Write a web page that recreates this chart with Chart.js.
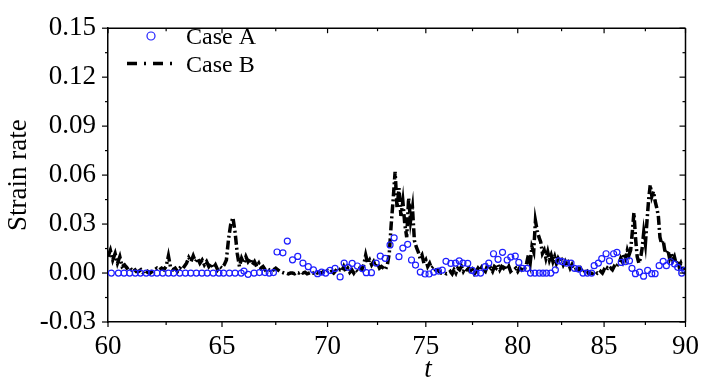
<!DOCTYPE html>
<html>
<head>
<meta charset="utf-8">
<script src="https://cdn.jsdelivr.net/npm/chart.js@4.4.1/dist/chart.umd.min.js"></script>
<style>
  html, body { margin: 0; padding: 0; background: #fff; }
  #wrap { width: 708px; height: 385px; }
</style>
</head>
<body>
<div id="wrap"><canvas id="chart" width="708" height="385"></canvas></div>
<script>
const xMajorTicks = [60, 65, 70, 75, 80, 85, 90]
const xMinorTicks = [62.5, 67.5, 72.5, 77.5, 82.5, 87.5]
const yMajorTicks = [-0.03, 0, 0.03, 0.06, 0.09, 0.12, 0.15]
const yMinorTicks = [-0.015, 0.015, 0.045, 0.075, 0.105, 0.135]

// Case A (open circles)
const caseATimes = [
  60.14, 60.44, 60.68, 60.92, 61.16, 61.38, 61.63, 61.87, 62.10, 62.35,
  62.60, 62.83, 63.10, 63.35, 63.59, 63.84, 64.09, 64.33, 64.60, 64.86,
  65.07, 65.34, 65.60, 65.88, 66.01, 66.20, 66.48, 66.73, 66.99, 67.19,
  67.39, 67.56, 67.84, 68.05, 68.30, 68.55, 68.80, 69.06, 69.31, 69.51,
  69.71, 69.91, 70.12, 70.37, 70.62, 70.82, 71.02, 71.22, 71.48, 71.73,
  71.93, 72.19, 72.43, 72.64, 72.89, 73.14, 73.35, 73.60, 73.80, 74.05,
  74.25, 74.46, 74.71, 74.96, 75.17, 75.42, 75.67, 75.87, 76.07, 76.33,
  76.58, 76.78, 76.98, 77.24, 77.49, 77.69, 77.94, 78.19, 78.39, 78.65,
  78.90, 79.15, 79.41, 79.61, 79.86, 80.06, 80.27, 80.52, 80.72, 80.97,
  81.22, 81.43, 81.63, 81.88, 82.14, 82.34, 82.54, 82.79, 83.05, 83.25,
  83.50, 83.75, 84.01, 84.26, 84.41, 84.66, 84.86, 85.12, 85.32, 85.57,
  85.77, 86.03, 86.28, 86.53, 86.68, 86.89, 87.14, 87.39, 87.64, 87.89,
  88.10, 88.35, 88.60, 88.80, 89.06, 89.31, 89.51, 89.76, 89.96
]
const caseAValues = [
  0, 0, 0, 0, 0, 0, 0, 0, 0, 0,
  0, 0, 0, 0, 0, 0, 0, 0, 0, 0,
  0, 0, 0, 0, 0.0012, -0.0008, 0, 0.0003, 0.0003, 0,
  0.0003, 0.0129, 0.0124, 0.0196, 0.0081, 0.0102, 0.0061, 0.0039, 0.0019, -0.0004,
  0.0006, 0, 0.0016, 0.0028, -0.0024, 0.0061, 0.0035, 0.0059, 0.0043, 0.0028,
  0.0002, 0.0002, 0.0061, 0.0104, 0.009, 0.0172, 0.0216, 0.010, 0.0153, 0.0176,
  0.008, 0.0049, 0.0006, -0.0006, -0.0006, 0.0006, 0.0012, 0.0018, 0.0072, 0.0059,
  0.0061, 0.0075, 0.0061, 0.0059, 0.0016, 0, 0, 0.0039, 0.0061, 0.0118,
  0.0084, 0.0127, 0.008, 0.0098, 0.0104, 0.0065, 0.0029, 0.0029, 0, 0,
  0, 0, 0, 0, 0.0019, 0.0075, 0.007, 0.0061, 0.0061, 0.0029,
  0.0025, 0, 0, 0, 0.0045, 0.0061, 0.0088, 0.0118, 0.0075, 0.0118,
  0.0127, 0.0065, 0.0069, 0.0075, 0.0029, -0.0004, 0.0006, -0.0019, 0.0016, -0.0004,
  -0.0004, 0.0045, 0.0072, 0.0045, 0.0069, 0.0055, 0.0035, 0, 0.0016
]

// Case B (dash-dot line)
const caseBTimes = [
  60.0, 60.1, 60.2, 60.3, 60.4, 60.5, 60.6, 60.7, 60.8, 60.9,
  61.0, 61.1, 61.2, 61.3, 61.4, 61.5, 61.6, 61.7, 61.8, 61.9,
  62.0, 62.1, 62.2, 62.3, 62.4, 62.5, 62.6, 62.7, 62.8, 62.9,
  63.0, 63.1, 63.2, 63.3, 63.4, 63.5, 63.6, 63.7, 63.8, 63.9,
  64.0, 64.1, 64.2, 64.3, 64.4, 64.5, 64.6, 64.7, 64.8, 64.9,
  65.0, 65.1, 65.2, 65.3, 65.4, 65.5, 65.6, 65.7, 65.8, 65.9,
  66.0, 66.1, 66.2, 66.3, 66.4, 66.5, 66.6, 66.7, 66.8, 66.9,
  67.0, 67.1, 67.2, 67.3, 67.4, 67.5, 67.6, 67.7, 67.8, 67.9,
  68.0, 68.1, 68.2, 68.3, 68.4, 68.5, 68.6, 68.7, 68.8, 68.9,
  69.0, 69.1, 69.2, 69.3, 69.4, 69.5, 69.6, 69.7, 69.8, 69.9,
  70.0, 70.1, 70.2, 70.3, 70.4, 70.5, 70.6, 70.7, 70.8, 70.9,
  71.0, 71.1, 71.2, 71.3, 71.4, 71.5, 71.6, 71.7, 71.8, 71.9,
  72.0, 72.1, 72.2, 72.3, 72.4, 72.5, 72.6, 72.7, 72.8, 72.9,
  73.0, 73.1, 73.2, 73.3, 73.4, 73.5, 73.6, 73.7, 73.8, 73.9,
  74.0, 74.1, 74.2, 74.3, 74.4, 74.5, 74.6, 74.7, 74.8, 74.9,
  75.0, 75.1, 75.2, 75.3, 75.4, 75.5, 75.6, 75.7, 75.8, 75.9,
  76.0, 76.1, 76.2, 76.3, 76.4, 76.5, 76.6, 76.7, 76.8, 76.9,
  77.0, 77.1, 77.2, 77.3, 77.4, 77.5, 77.6, 77.7, 77.8, 77.9,
  78.0, 78.1, 78.2, 78.3, 78.4, 78.5, 78.6, 78.7, 78.8, 78.9,
  79.0, 79.1, 79.2, 79.3, 79.4, 79.5, 79.6, 79.7, 79.8, 79.9,
  80.0, 80.1, 80.2, 80.3, 80.4, 80.5, 80.6, 80.7, 80.8, 80.9,
  81.0, 81.1, 81.2, 81.3, 81.4, 81.5, 81.6, 81.7, 81.8, 81.9,
  82.0, 82.1, 82.2, 82.3, 82.4, 82.5, 82.6, 82.7, 82.8, 82.9,
  83.0, 83.1, 83.2, 83.3, 83.4, 83.5, 83.6, 83.7, 83.8, 83.9,
  84.0, 84.1, 84.2, 84.3, 84.4, 84.5, 84.6, 84.7, 84.8, 84.9,
  85.0, 85.1, 85.2, 85.3, 85.4, 85.5, 85.6, 85.7, 85.8, 85.9,
  86.0, 86.1, 86.2, 86.3, 86.4, 86.5, 86.6, 86.7, 86.8, 86.9,
  87.0, 87.1, 87.2, 87.3, 87.4, 87.5, 87.6, 87.7, 87.8, 87.9,
  88.0, 88.1, 88.2, 88.3, 88.4, 88.5, 88.6, 88.7, 88.8, 88.9,
  89.0, 89.1, 89.2, 89.3, 89.4, 89.5, 89.6, 89.7, 89.8, 89.9,
  90.0
]
const caseBValues = [
  0.010, 0.014, 0.008, 0.012, 0.006, 0.010, 0.004, 0.005, 0.003, 0.004,
  0.002, 0.003, 0.001, 0.001, 0.002, 0.000, -0.001, 0.001, 0.000, 0.001,
  0.002, 0.003, 0.002, 0.003, 0.002, 0.004, 0.0105, 0.003, 0.002, 0.003,
  0.001, 0.003, 0.002, 0.004, 0.006, 0.0095, 0.007, 0.0105, 0.007, 0.009,
  0.006, 0.008, 0.005, 0.007, 0.004, 0.006, 0.003, 0.005, 0.002, 0.004,
  0.003, 0.005, 0.008, 0.021, 0.030, 0.034, 0.025, 0.012, 0.004, 0.009,
  0.006, 0.010, 0.007, 0.009, 0.005, 0.007, 0.004, 0.006, 0.003, 0.004,
  0.002, 0.003, 0.002, 0.003, 0.002, 0.003, 0.002, 0.001, 0.0005, 0,
  0, -0.0005, 0, 0, -0.0005, 0.0005, 0, 0.001, 0, 0.0005,
  -0.0005, 0, 0.0005, 0, 0.001, 0, 0.0005, 0, 0.001, 0,
  0.0015, 0.0005, 0.001, 0, 0.0015, 0.0005, 0.002, 0.001, 0.004, 0.001,
  0.003, 0.0005, 0.002, 0, 0.002, 0.001, 0.003, 0.002, 0.005, 0.011,
  0.006, 0.008, 0.005, 0.007, 0.004, 0.006, 0.003, 0.004, 0.003, 0.002,
  0.005, 0.012, 0.030, 0.045, 0.062, 0.040, 0.052, 0.035, 0.044, 0.030,
  0.022, 0.046, 0.032, 0.040, 0.020, 0.016, 0.013, 0.009, 0.011, 0.006,
  0.008, 0.004, 0.006, 0.003, 0.004, 0.002, 0.002, 0.001, 0, 0,
  0, -0.0005, 0, 0.001, -0.0005, 0.002, 0, 0.003, 0.002, 0.004,
  0.001, 0.003, 0.002, 0.003, 0, 0.002, -0.0005, 0.001, 0.003, 0.0015,
  0.0035, 0.002, 0.001, 0.004, 0.002, 0.003, 0.001, 0.004, 0.003, 0.005,
  0.002, 0.004, 0.003, 0.005, 0.002, 0.004, 0.001, 0.002, 0.002, 0.003,
  0.001, 0.003, 0.002, 0.004, 0.003, 0.006, 0.011, 0.006, 0.016, 0.013,
  0.032, 0.026, 0.022, 0.019, 0.012, 0.014, 0.009, 0.013, 0.008, 0.011,
  0.007, 0.010, 0.006, 0.009, 0.007, 0.008, 0.005, 0.007, 0.004, 0.006,
  0.003, 0.005, 0.002, 0.002, 0.004, 0.002, 0.003, 0.001, 0.002, 0,
  0.001, -0.0005, 0, -0.0005, 0, -0.001, 0, -0.0005, 0.001, 0,
  0.002, 0.001, 0.003, 0.002, 0.003, 0.002, 0.004, 0.003, 0.005, 0.006,
  0.009, 0.007, 0.012, 0.009, 0.014, 0.011, 0.014, 0.025, 0.037, 0.021,
  0.010, 0.006, 0.009, 0.015, 0.025, 0.018, 0.032, 0.045, 0.054, 0.047,
  0.050, 0.044, 0.040, 0.035, 0.022, 0.018, 0.020, 0.014, 0.012, 0.014,
  0.009, 0.012, 0.008, 0.010, 0.006, 0.008, 0.004, 0.006, 0.003, 0.004,
  0.002
]

const serif = '"Liberation Serif", "Times New Roman", Times, serif'
const blue = '#1f1fff'
const caseBDash = [9, 3, 2, 3]

// mirrored top/right axes, inward/outward ticks, legend and x title
const framePlugin = {
  id: 'frame',
  afterDraw(chart) {
    const { ctx, chartArea: a, scales: { x, y } } = chart
    const line = (x1, y1, x2, y2) => {
      ctx.beginPath(); ctx.moveTo(x1, y1); ctx.lineTo(x2, y2); ctx.stroke()
    }
    ctx.save()
    ctx.strokeStyle = '#000'
    ctx.lineWidth = 1.5
    line(a.left, a.top, a.right, a.top)
    line(a.right, a.top, a.right, a.bottom)

    ctx.lineWidth = 1.2
    xMajorTicks.forEach(v => {
      const px = x.getPixelForValue(v)
      line(px, a.bottom, px, a.bottom + 5)
      line(px, a.top, px, a.top + 5)
    })
    xMinorTicks.forEach(v => {
      const px = x.getPixelForValue(v)
      line(px, a.bottom, px, a.bottom + 3)
      line(px, a.top, px, a.top + 3)
    })
    yMajorTicks.forEach(v => {
      const py = y.getPixelForValue(v)
      line(a.left - 6, py, a.left, py)
      line(a.right - 6, py, a.right, py)
    })
    yMinorTicks.forEach(v => {
      const py = y.getPixelForValue(v)
      line(a.left - 3, py, a.left, py)
      line(a.right - 3, py, a.right, py)
    })

    // legend
    ctx.strokeStyle = blue
    ctx.lineWidth = 1.2
    ctx.beginPath(); ctx.arc(151, 36, 4, 0, Math.PI * 2); ctx.stroke()
    ctx.strokeStyle = '#000'
    ctx.lineWidth = 3.5
    ctx.setLineDash([10, 7, 2, 7])
    line(127, 63.5, 173, 63.5)
    ctx.setLineDash([])
    ctx.fillStyle = '#000'
    ctx.font = '24px ' + serif
    ctx.textAlign = 'left'
    ctx.textBaseline = 'alphabetic'
    ctx.fillText('Case A', 186, 44)
    ctx.fillText('Case B', 186, 72)

    // x axis title
    ctx.font = 'italic 27px ' + serif
    ctx.textAlign = 'center'
    ctx.fillText('t', 428, 377)
    ctx.restore()
  }
}

new Chart(document.getElementById('chart'), {
  type: 'scatter',
  data: {
    datasets: [
      {
        label: 'Case A',
        data: caseATimes.map((t, i) => ({ x: t, y: caseAValues[i] })),
        showLine: false,
        pointStyle: 'circle',
        pointRadius: 3,
        borderWidth: 1.2,
        borderColor: blue,
        backgroundColor: 'rgba(0,0,0,0)'
      },
      {
        label: 'Case B',
        data: caseBTimes.map((t, i) => ({ x: t, y: caseBValues[i] })),
        showLine: true,
        pointRadius: 0,
        borderColor: '#000',
        borderWidth: 3.5,
        borderDash: caseBDash,
        tension: 0,
        fill: false
      }
    ]
  },
  options: {
    responsive: false,
    animation: false,
    layout: { padding: { top: 16, right: 15, left: 0, bottom: 0 } },
    plugins: {
      legend: { display: false },
      tooltip: { enabled: false }
    },
    scales: {
      x: {
        type: 'logarithmic',
        min: 60,
        max: 90,
        grid: { display: false, drawTicks: false },
        border: { display: true, color: '#000', width: 1.5 },
        ticks: {
          color: '#000',
          padding: 9,
          autoSkip: false,
          maxRotation: 0,
          font: { family: serif, size: 27 },
          callback: (value) => String(value)
        },
        afterBuildTicks: (axis) => { axis.ticks = xMajorTicks.map(v => ({ value: v })) },
        afterFit: (axis) => { axis.height = 63 }
      },
      y: {
        type: 'linear',
        min: -0.03,
        max: 0.15,
        grid: { display: false, drawTicks: false },
        border: { display: true, color: '#000', width: 1.5 },
        ticks: {
          color: '#000',
          padding: 12,
          font: { family: serif, size: 27 },
          callback: (value) => value.toFixed(2)
        },
        title: {
          display: true,
          text: 'Strain rate',
          color: '#000',
          padding: { top: 3, bottom: 0 },
          font: { family: serif, size: 27 }
        },
        afterBuildTicks: (axis) => { axis.ticks = yMajorTicks.map(v => ({ value: v })) },
        afterFit: (axis) => { axis.width = 108 }
      }
    }
  },
  plugins: [framePlugin]
})
</script>
</body>
</html>
